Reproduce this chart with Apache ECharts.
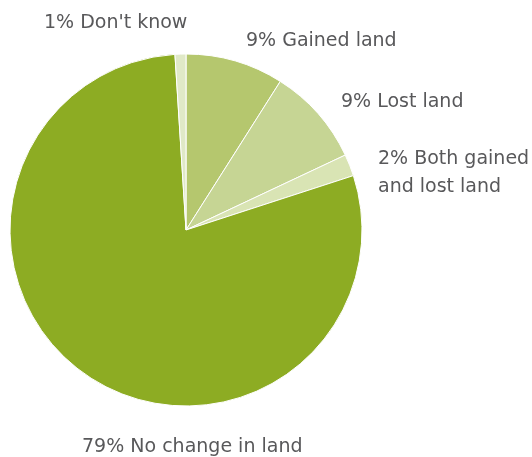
<!DOCTYPE html>
<html>
<head>
<meta charset="utf-8">
<script src="https://cdn.jsdelivr.net/npm/echarts@6/dist/echarts.min.js"></script>
<style>
  html, body { margin: 0; padding: 0; background: #fff; }
  #chart { width: 532px; height: 457px; }
</style>
</head>
<body>
<div id="chart"></div>
<script>
// Land change responses, clockwise from twelve o'clock
const categories = ['Gained land', 'Lost land', 'Both gained\nand lost land', 'No change in land', "Don't know"];
const percents = [9, 9, 2, 79, 1];
const colors = ['#b5c76e', '#c6d594', '#d9e4b4', '#8dac23', '#e0e9c7'];

// Label anchor points (left/top of each text block)
const labelSpots = [
  { x: 246, y: 27 },
  { x: 341, y: 88 },
  { x: 378, y: 145 },
  { x: 82, y: 433 },
  { x: 44, y: 9 }
];

const chart = echarts.init(document.getElementById('chart'), null, { renderer: 'canvas' });

chart.setOption({
  animation: false,
  backgroundColor: '#ffffff',
  series: [{
    type: 'pie',
    center: [186, 230],
    radius: [0, 176],
    startAngle: 90,
    clockwise: true,
    avoidLabelOverlap: false,
    data: categories.map((name, i) => ({
      name: name,
      value: percents[i],
      itemStyle: { color: colors[i] }
    })),
    itemStyle: { borderColor: '#ffffff', borderWidth: 1 },
    label: {
      show: true,
      position: 'outside',
      formatter: p => p.value + '% ' + p.name,
      fontFamily: 'DejaVu Sans',
      fontSize: 19,
      lineHeight: 28,
      color: '#58585a'
    },
    labelLine: { show: false },
    labelLayout: p => ({
      x: labelSpots[p.dataIndex].x,
      y: labelSpots[p.dataIndex].y,
      align: 'left',
      verticalAlign: 'top',
      hideOverlap: false
    }),
    emphasis: { disabled: true }
  }]
});
</script>
</body>
</html>
